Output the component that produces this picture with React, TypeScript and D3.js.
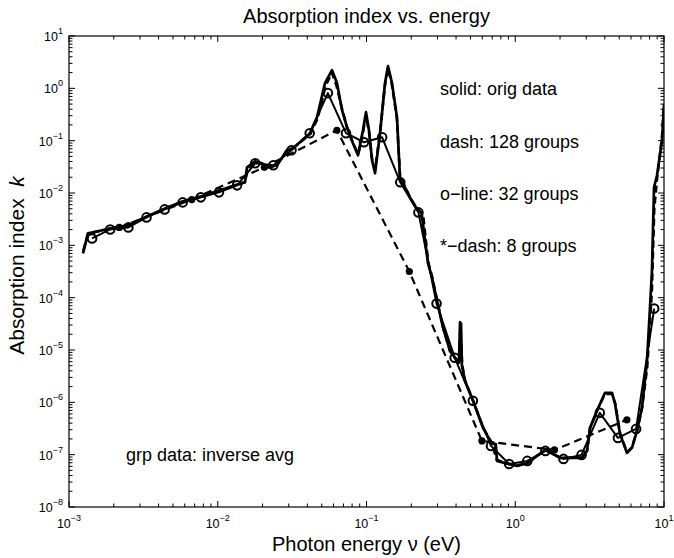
import React from 'react';
import * as d3 from 'd3';

const W = 674;
const H = 558;
const PLOT = { left: 69, right: 664, top: 36, bottom: 507 };

const titleText = 'Absorption index vs. energy';
const xLabelText = 'Photon energy ν (eV)';
const yLabelMain = 'Absorption index  ';
const yLabelVar = 'k';

const xTickExps = [-3, -2, -1, 0, 1];
const yTickExps = [1, 0, -1, -2, -3, -4, -5, -6, -7, -8];

// solid: original data
const origE = [
  1.242e-3, 1.342e-3, 1.449e-3, 1.887e-3, 2.493e-3, 3.345e-3, 4.418e-3, 5.84e-3, 7.83e-3,
  1.035e-2, 1.368e-2, 1.525e-2, 1.573e-2, 1.779e-2, 1.983e-2, 2.177e-2, 2.502e-2, 2.92e-2,
  3.207e-2, 4.171e-2, 4.648e-2, 5.26e-2, 5.86e-2, 6.33e-2, 6.85e-2, 7.39e-2, 8.11e-2,
  8.77e-2, 9.47e-2, 9.92e-2, 0.1039, 0.1089, 0.1141, 0.1233, 0.1332, 0.1395, 0.1484,
  0.1603, 0.1679, 0.196, 0.2151, 0.235, 0.2591, 0.2756, 0.2978, 0.3268, 0.3641, 0.3936,
  0.4186, 0.4253, 0.432, 0.438, 0.4595, 0.52, 0.607, 0.698, 0.74, 0.754, 0.894, 1.028,
  1.218, 1.4, 1.635, 1.794, 2.0, 2.334, 2.81, 3.037, 3.181, 3.545, 4.013, 4.472, 4.685,
  5.06, 5.64, 6.09, 6.58, 7.11, 7.69, 8.05, 8.3, 8.57, 8.98, 9.7, 10,
];
const origK = [
  7.0e-4, 1.69e-3, 1.77e-3, 2.1e-3, 2.4e-3, 3.57e-3, 5.08e-3, 6.92e-3, 8.63e-3,
  1.125e-2, 1.465e-2, 1.6e-2, 3.1e-2, 4.04e-2, 3.7e-2, 3.1e-2, 3.39e-2, 6.56e-2,
  7.16e-2, 0.1387, 0.281, 1.26, 2.23, 1.26, 0.383, 0.181, 8.93e-2,
  5.26e-2, 0.158, 0.351, 0.158, 4.22e-2, 2.38e-2, 0.1387, 1.26, 2.67, 1.26,
  0.281, 2.0e-2, 8.26e-3, 5.31e-3, 4.0e-3, 4.5e-4, 2.43e-4, 8.8e-5, 2.67e-5, 9.7e-6, 7.13e-6,
  5.71e-6, 3.4e-5, 3.2e-5, 5.0e-6, 2.58e-6, 1.07e-6, 3.25e-7, 1.61e-7, 1.6e-7, 7.6e-8, 6.65e-8, 6.1e-8,
  6.95e-8, 9.46e-8, 1.29e-7, 1.03e-7, 8.67e-8, 8.67e-8, 8.67e-8, 1.18e-7, 3.25e-7, 6.89e-7, 1.52e-6, 1.52e-6, 9.4e-7,
  2.5e-7, 1.08e-7, 1.35e-7, 2.85e-7, 7.87e-7, 6.25e-6, 6.46e-5, 3.3e-4, 1.28e-2, 2.18e-2, 0.102, 0.477,
];

// dash: 128 groups
const dash128E = [
  1.25e-3, 1.34e-3, 1.45e-3, 1.9e-3, 2.5e-3, 3.3e-3, 4.4e-3, 5.8e-3, 7.8e-3, 1.03e-2,
  1.37e-2, 1.52e-2, 1.6e-2, 1.78e-2, 2.0e-2, 2.2e-2, 2.5e-2, 2.9e-2, 3.2e-2, 4.2e-2,
  4.7e-2, 5.3e-2, 5.85e-2, 6.3e-2, 6.9e-2, 7.4e-2, 8.1e-2, 8.8e-2, 9.5e-2, 9.9e-2,
  0.104, 0.109, 0.114, 0.123, 0.133, 0.14, 0.148, 0.16, 0.168, 0.196,
  0.215, 0.24, 0.26, 0.276, 0.298, 0.327, 0.364, 0.394, 0.42, 0.427,
  0.44, 0.46, 0.52, 0.607, 0.698, 0.75, 0.894, 1.03, 1.22, 1.4,
  1.63, 1.8, 2.0, 2.33, 2.8, 3.04, 3.18, 3.55, 4.0, 4.47,
  4.7, 5.06, 5.64, 6.1, 6.6, 7.1, 7.7, 8.05, 8.3, 8.6, 9.0, 9.7, 10,
];
const dash128K = [
  8.0e-4, 1.65e-3, 1.75e-3, 2.1e-3, 2.4e-3, 3.5e-3, 5.0e-3, 6.9e-3, 8.6e-3, 1.12e-2,
  1.45e-2, 1.6e-2, 3.0e-2, 3.9e-2, 3.6e-2, 3.1e-2, 3.4e-2, 6.4e-2, 7.1e-2, 0.135,
  0.27, 1.1, 2.0, 1.1, 0.37, 0.18, 9.0e-2, 5.5e-2, 0.15, 0.3,
  0.15, 4.5e-2, 2.8e-2, 0.13, 1.15, 2.4, 1.2, 0.27, 2.1e-2, 8.3e-3,
  5.3e-3, 3.9e-3, 4.8e-4, 2.5e-4, 9.0e-5, 2.7e-5, 9.5e-6, 7.0e-6, 6.0e-6, 2.5e-5,
  5.2e-6, 2.6e-6, 1.1e-6, 3.3e-7, 1.65e-7, 8.0e-8, 6.7e-8, 6.2e-8, 7.0e-8, 9.5e-8,
  1.28e-7, 1.04e-7, 8.8e-8, 8.7e-8, 8.8e-8, 1.2e-7, 3.2e-7, 6.9e-7, 1.45e-6, 1.45e-6,
  9.5e-7, 2.6e-7, 1.1e-7, 1.4e-7, 2.9e-7, 7.5e-7, 4.5e-6, 3.0e-5, 1.5e-4, 5.0e-3, 2.0e-2, 0.12, 0.5,
];

// o-line: 32 groups
const grp32E = [
  1.429e-3, 1.892e-3, 2.506e-3, 3.319e-3, 4.395e-3, 5.81e-3, 7.69e-3, 1.019e-2,
  1.349e-2, 1.786e-2, 2.365e-2, 3.132e-2, 4.15e-2, 5.5e-2, 7.28e-2, 9.62e-2,
  0.1274, 0.1687, 0.2234, 0.2958, 0.3917, 0.519, 0.687, 0.91,
  1.205, 1.595, 2.11, 2.79, 3.7, 4.9, 6.49, 8.59,
];
const grp32K = [
  1.355e-3, 2.01e-3, 2.2e-3, 3.42e-3, 4.86e-3, 6.62e-3, 8.26e-3, 1.03e-2,
  1.4e-2, 3.7e-2, 3.39e-2, 6.56e-2, 0.139, 0.81, 0.139, 9.33e-2,
  0.116, 1.6e-2, 4.26e-3, 7.7e-5, 7.13e-6, 1.07e-6, 1.47e-7, 6.65e-8,
  7.6e-8, 1.18e-7, 8.3e-8, 9.9e-8, 6.3e-7, 2.09e-7, 3.11e-7, 6.18e-5,
];

// *-dash: 8 groups
const grp8E = [2.178e-3, 6.69e-3, 2.056e-2, 6.32e-2, 0.1941, 0.597, 1.834, 5.63];
const grp8K = [2.2e-3, 7.5e-3, 3.1e-2, 0.158, 3.16e-4, 1.83e-7, 1.23e-7, 4.63e-7];

const legendLines = ['solid: orig data', 'dash: 128 groups', 'o\u2212line: 32 groups', '*\u2212dash: 8 groups'];
const noteText = 'grp data: inverse avg';

const FONT = '"Liberation Sans", Arial, Helvetica, sans-serif';

export default function App() {
  const x = d3.scaleLog().domain([1e-3, 1e1]).range([PLOT.left, PLOT.right]);
  const y = d3.scaleLog().domain([1e-8, 1e1]).range([PLOT.bottom, PLOT.top]);

  const line = d3
    .line<[number, number]>()
    .x((d) => x(d[0]))
    .y((d) => y(d[1]));

  const zip = (a: number[], b: number[]) => a.map((v, i) => [v, b[i]] as [number, number]);

  const orig = zip(origE, origK);
  const d128 = zip(dash128E, dash128K);
  const g32 = zip(grp32E, grp32K);
  const g8 = zip(grp8E, grp8K);

  const xMinor: number[] = [];
  for (let e = -3; e < 1; e++) for (let m = 2; m <= 9; m++) xMinor.push(m * Math.pow(10, e));
  const yMinor: number[] = [];
  for (let e = -8; e < 1; e++) for (let m = 2; m <= 9; m++) yMinor.push(m * Math.pow(10, e));

  const majorLen = 6;
  const minorLen = 3.5;
  const sup = (e: number) => (e < 0 ? '\u2212' + Math.abs(e) : String(e));

  return (
    <svg width={W} height={H} style={{ display: 'block', position: 'absolute', left: 0, top: 0 }} fontFamily={FONT}>
      <rect width={W} height={H} fill="#fff" />
      <defs>
        <clipPath id="plotclip">
          <rect x={PLOT.left} y={PLOT.top} width={PLOT.right - PLOT.left} height={PLOT.bottom - PLOT.top} />
        </clipPath>
      </defs>

      {/* ticks */}
      <g stroke="#000" strokeWidth={1}>
        {xTickExps.map((e) => {
          const px = x(Math.pow(10, e));
          return (
            <g key={'xt' + e}>
              <line x1={px} x2={px} y1={PLOT.bottom} y2={PLOT.bottom - majorLen} />
              <line x1={px} x2={px} y1={PLOT.top} y2={PLOT.top + majorLen} />
            </g>
          );
        })}
        {xMinor.map((v, i) => {
          const px = x(v);
          return (
            <g key={'xm' + i}>
              <line x1={px} x2={px} y1={PLOT.bottom} y2={PLOT.bottom - minorLen} />
              <line x1={px} x2={px} y1={PLOT.top} y2={PLOT.top + minorLen} />
            </g>
          );
        })}
        {yTickExps.map((e) => {
          const py = y(Math.pow(10, e));
          return (
            <g key={'yt' + e}>
              <line x1={PLOT.left} x2={PLOT.left + majorLen} y1={py} y2={py} />
              <line x1={PLOT.right} x2={PLOT.right - majorLen} y1={py} y2={py} />
            </g>
          );
        })}
        {yMinor.map((v, i) => {
          const py = y(v);
          return (
            <g key={'ym' + i}>
              <line x1={PLOT.left} x2={PLOT.left + minorLen} y1={py} y2={py} />
              <line x1={PLOT.right} x2={PLOT.right - minorLen} y1={py} y2={py} />
            </g>
          );
        })}
      </g>

      {/* data */}
      <g clipPath="url(#plotclip)" fill="none" stroke="#000" strokeLinejoin="round">
        <path d={line(orig) || ''} strokeWidth={2.7} />
        <path d={line(d128) || ''} strokeWidth={2.6} strokeDasharray="7 4" />
        <path d={line(g32) || ''} strokeWidth={2} />
        {g32.map((d, i) => (
          <circle key={'c' + i} cx={x(d[0])} cy={y(d[1])} r={4.3} strokeWidth={2} fill="none" />
        ))}
        <path d={line(g8) || ''} strokeWidth={2.2} strokeDasharray="8 5" />
        {g8.map((d, i) => (
          <circle key={'s' + i} cx={x(d[0])} cy={y(d[1])} r={3.6} fill="#000" stroke="none" />
        ))}
      </g>

      {/* frame */}
      <rect
        x={PLOT.left}
        y={PLOT.top}
        width={PLOT.right - PLOT.left}
        height={PLOT.bottom - PLOT.top}
        fill="none"
        stroke="#000"
        strokeWidth={1.2}
      />

      {/* tick labels */}
      <g fontSize={12.5} fill="#000">
        {xTickExps.map((e) => (
          <text key={'xl' + e} x={x(Math.pow(10, e))} y={PLOT.bottom + 21} textAnchor="middle">
            <tspan>10</tspan>
            <tspan fontSize={9} dy={-7}>
              {sup(e)}
            </tspan>
          </text>
        ))}
        {yTickExps.map((e) => (
          <text key={'yl' + e} x={PLOT.left - 6} y={y(Math.pow(10, e)) + 5} textAnchor="end">
            <tspan>10</tspan>
            <tspan fontSize={9} dy={-7}>
              {sup(e)}
            </tspan>
          </text>
        ))}
      </g>

      {/* title & axis labels */}
      <text x={(PLOT.left + PLOT.right) / 2} y={23} textAnchor="middle" fontSize={20}>
        {titleText}
      </text>
      <text x={(PLOT.left + PLOT.right) / 2} y={551} textAnchor="middle" fontSize={20}>
        {xLabelText}
      </text>
      <text
        transform={`translate(24, ${(PLOT.top + PLOT.bottom) / 2 - 6}) rotate(-90)`}
        textAnchor="middle"
        fontSize={21}
        style={{ whiteSpace: 'pre' }}
      >
        <tspan>{yLabelMain}</tspan>
        <tspan fontStyle="italic">{yLabelVar}</tspan>
      </text>

      {/* annotations */}
      <g fontSize={18} fill="#000">
        {legendLines.map((t, i) => (
          <text key={'lg' + i} x={440} y={y(Math.pow(10, -i)) + 7}>
            {t}
          </text>
        ))}
        <text x={126} y={y(1e-7) + 6}>
          {noteText}
        </text>
      </g>
    </svg>
  );
}
